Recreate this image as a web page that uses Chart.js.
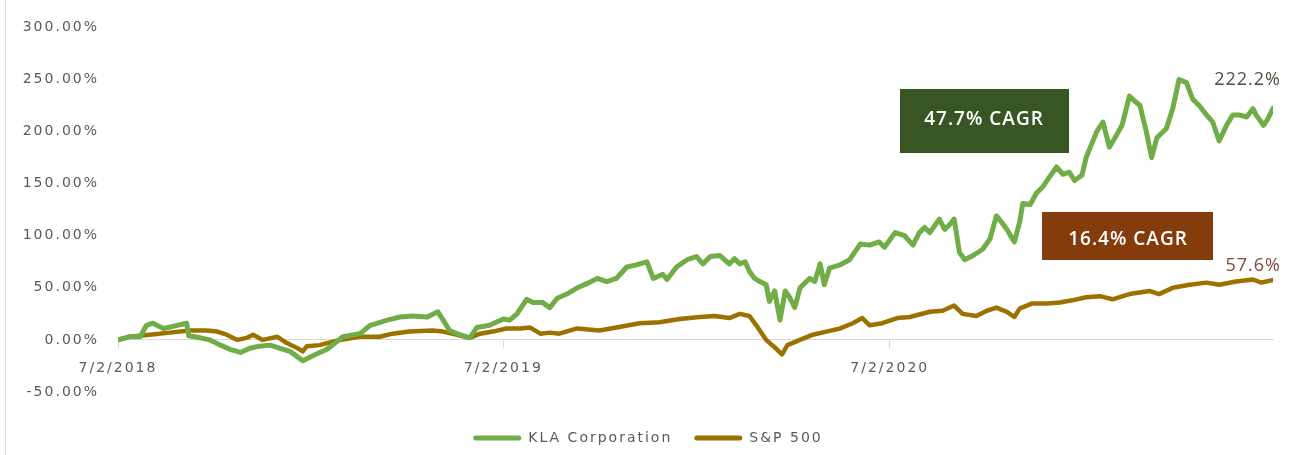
<!DOCTYPE html>
<html lang="en">

<head>
    <meta charset="UTF-8">
    <meta name="viewport" content="width=device-width, initial-scale=1.0">
    <title>KLA Corporation vs S&amp;P 500</title>
    <script src="https://cdn.jsdelivr.net/npm/chart.js"></script>
    <style>
        body {
            margin: 0;
            background: #ffffff;
        }

        .chart-box {
            position: relative;
            width: 1294px;
            height: 455px;
        }
    </style>
</head>

<body>
    <div class="chart-box">
        <canvas id="myChart"></canvas>
    </div>

    <script>
        // days since 7/2/2018 and cumulative return (%)
        const klaDays = [0, 11, 21, 27, 33, 43, 52, 65, 67, 78, 87, 97, 106, 116, 125, 134, 144, 153, 163, 175,
            187, 198, 213, 229, 239, 255, 267, 279, 293, 303, 308, 314, 324, 333, 340, 352, 365, 371, 378, 387,
            393, 402, 409, 416, 425, 435, 444, 454, 463, 472, 482, 491, 501, 507, 516, 520, 529, 539, 548, 554,
            561, 570, 579, 584, 589, 594, 598, 603, 608, 614, 617, 622, 627, 632, 636, 641, 646, 655, 660, 665,
            669, 674, 684, 693, 703, 712, 721, 726, 736, 745, 753, 759, 764, 769, 778, 783, 788, 792, 797, 802,
            810, 819, 826, 832, 837, 842, 849, 854, 857, 864, 870, 876, 882, 889, 895, 901, 906, 913, 917, 927,
            933, 939, 946, 951, 958, 961, 968, 974, 979, 984, 993, 999, 1005, 1012, 1018, 1024, 1031, 1037, 1043, 1050,
            1056, 1062, 1069, 1075, 1078, 1085, 1089, 1094];
        const klaReturn = [0, 3, 3, 14, 16, 11, 13, 16, 4, 2, 0, -5, -9, -12, -8, -6, -5, -8, -11, -20,
            -14, -9, 3, 6, 14, 19, 22, 23, 22, 27, 19, 9, 5, 2, 12, 14, 20, 19, 25, 39,
            36, 36, 31, 40, 44, 50, 54, 59, 56, 59, 70, 72, 75, 59, 63, 58, 70, 77, 80, 73,
            80, 81, 73, 78, 73, 75, 66, 59, 56, 53, 37, 47, 19, 47, 41, 31, 50, 59, 56, 73,
            53, 69, 72, 77, 92, 91, 94, 89, 103, 100, 91, 103, 108, 103, 116, 106, 111, 116, 84, 77,
            81, 87, 97, 119, 113, 106, 94, 113, 131, 130, 141, 147, 156, 166, 159, 161, 153, 158, 175, 200,
            209, 185, 197, 206, 234, 231, 225, 200, 175, 194, 203, 222, 250, 247, 231, 225, 216, 209, 191, 206,
            216, 216, 214, 222, 216, 206, 212, 222.2];

        const spDays = [0, 11, 30, 49, 68, 84, 94, 103, 113, 122, 128, 137, 151, 160, 172, 175, 179, 191, 210, 229,
            248, 260, 276, 298, 308, 321, 333, 343, 355, 368, 381, 390, 400, 409, 418, 435, 456, 472, 494, 513,
            532, 551, 565, 579, 589, 598, 606, 614, 624, 629, 634, 646, 658, 671, 684, 696, 705, 712, 724, 738,
            750, 769, 781, 792, 800, 813, 823, 832, 842, 849, 854, 866, 880, 892, 904, 917, 930, 942, 958, 977,
            986, 999, 1015, 1031, 1043, 1059, 1075, 1083, 1094];
        const spReturn = [0, 3, 5, 7, 9, 9, 8, 5, 0, 2, 5, 0, 3, -3, -9, -11, -6, -5, 0, 3,
            3, 6, 8, 9, 8, 5, 2, 6, 8, 11, 11, 12, 6, 7, 6, 11, 9, 12, 16, 17,
            20, 22, 23, 21, 25, 23, 12, 0, -9, -14, -5, 0, 5, 8, 11, 16, 21, 14, 16, 21,
            22, 27, 28, 33, 25, 23, 28, 31, 27, 22, 30, 35, 35, 36, 38, 41, 42, 39, 44, 47,
            44, 50, 53, 55, 53, 56, 58, 55, 57.6];

        const tickDays = [0, 365, 731];
        const tickLabels = ['7/2/2018', '7/2/2019', '7/2/2020'];
        const cagrLabels = ['47.7% CAGR', '16.4% CAGR'];

        const lineColors = ['#70ad47', '#9b7100'];
        const endColors = ['#44543c', '#7c4b3c'];

        function toPoints(days, values) {
            return days.map(function (d, i) {
                return { x: d, y: values[i] };
            });
        }

        // border line, CAGR boxes and end-of-line values
        const notes = {
            id: 'notes',
            beforeUpdate(chart) {
                chart.ctx.letterSpacing = '2px';
            },
            beforeDraw(chart) {
                const ctx = chart.ctx;
                ctx.letterSpacing = '2px';
                ctx.save();
                ctx.strokeStyle = '#d9d9d9';
                ctx.lineWidth = 1;
                ctx.beginPath();
                ctx.moveTo(5.5, 0);
                ctx.lineTo(5.5, chart.height);
                ctx.stroke();
                ctx.restore();
            },
            afterDatasetsDraw(chart) {
                const ctx = chart.ctx;
                ctx.save();
                ctx.letterSpacing = '1px';

                ctx.fillStyle = '#375623';
                ctx.fillRect(900, 89, 169, 64);
                ctx.fillStyle = '#843c0c';
                ctx.fillRect(1042, 212, 171, 48);

                ctx.fillStyle = '#ffffff';
                ctx.font = '600 19px "Open Sans"';
                ctx.textAlign = 'center';
                ctx.textBaseline = 'alphabetic';
                ctx.fillText(cagrLabels[0], 984, 125);
                ctx.fillText(cagrLabels[1], 1128, 245);

                ctx.font = '18px "Open Sans"';
                ctx.textAlign = 'right';
                const offsets = [-23, -9];
                chart.data.datasets.forEach(function (ds, i) {
                    const meta = chart.getDatasetMeta(i);
                    const last = meta.data[meta.data.length - 1];
                    const v = ds.data[ds.data.length - 1].y;
                    ctx.fillStyle = endColors[i];
                    ctx.fillText(v.toFixed(1) + '%', last.x + 8, last.y + offsets[i]);
                });
                ctx.restore();
            }
        };

        Chart.defaults.font.family = '"DejaVu Sans", sans-serif';
        Chart.defaults.font.size = 14;
        Chart.defaults.color = '#595959';

        const data = {
            datasets: [{
                label: 'KLA Corporation',
                data: toPoints(klaDays, klaReturn),
                borderColor: lineColors[0],
                backgroundColor: lineColors[0],
                borderWidth: 5,
            },
            {
                label: 'S&P 500',
                data: toPoints(spDays, spReturn),
                borderColor: lineColors[1],
                backgroundColor: lineColors[1],
                borderWidth: 4.5,
            }]
        };

        const config = {
            type: 'line',
            data: data,
            options: {
                responsive: true,
                maintainAspectRatio: false,
                animation: false,
                layout: {
                    padding: { left: 23, right: 21, top: 20, bottom: 0 }
                },
                elements: {
                    point: { radius: 0 },
                    line: { tension: 0, borderJoinStyle: 'round', borderCapStyle: 'round' }
                },
                scales: {
                    x: {
                        type: 'linear',
                        min: 0,
                        max: 1094,
                        position: { y: 0 },
                        afterBuildTicks(scale) {
                            scale.ticks = tickDays.map(function (d) { return { value: d }; });
                        },
                        ticks: {
                            padding: 12,
                            maxRotation: 0,
                            callback: function (value, index) {
                                return tickLabels[index];
                            }
                        },
                        grid: {
                            display: true,
                            drawOnChartArea: false,
                            drawTicks: true,
                            tickLength: 8,
                            color: '#d9d9d9'
                        },
                        border: { display: true, color: '#d9d9d9' }
                    },
                    y: {
                        min: -50,
                        max: 300,
                        afterFit(scale) {
                            scale.width = 95;
                        },
                        ticks: {
                            stepSize: 50,
                            padding: 19,
                            callback: function (value) {
                                return value.toFixed(2) + '%';
                            }
                        },
                        grid: { display: false, drawTicks: false },
                        border: { display: false }
                    }
                },
                plugins: {
                    tooltip: { enabled: false },
                    legend: {
                        position: 'bottom',
                        title: { display: true, text: '', font: { size: 10 }, padding: { top: 5, bottom: 0 } },
                        labels: {
                            boxWidth: 48,
                            boxHeight: 5,
                            padding: 22,
                            color: '#595959',
                            useBorderRadius: true,
                            borderRadius: 2.5,
                            generateLabels(chart) {
                                const items = Chart.defaults.plugins.legend.labels.generateLabels(chart);
                                items.forEach(function (it) {
                                    it.lineWidth = 0;
                                    it.fillStyle = it.strokeStyle;
                                });
                                return items;
                            }
                        }
                    }
                }
            },
            plugins: [notes]
        };

        const myChart = new Chart(
            document.getElementById('myChart'),
            config
        );
    </script>
</body>

</html>
